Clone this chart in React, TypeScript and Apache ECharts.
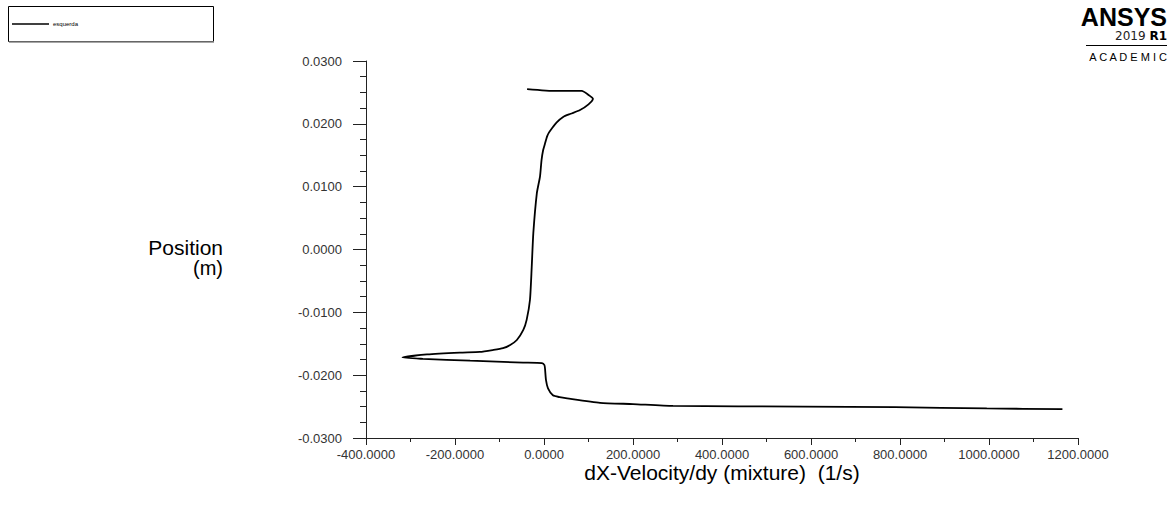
import React, { useEffect, useRef } from "react";
import * as echarts from "echarts";

const seriesName = "esquerda";
const xAxisTitle = "dX-Velocity/dy (mixture)  (1/s)";
const yAxisTitle = ["Position", "(m)"];

const dXVelocityDy: number[] = [
  -38, 27, 85, 100, 110, 100, 81, 60, 43, 28, 18, 11, 7, 2, -2, -5.6, -9, -16, -24, -27.6, -31.5, -39, -46.5, -61, -76, -92, -115, -144, -189, -263, -318,
  -272, -166, -47, -4.5, 1, 2.2, 4.5, 9, 20, 35, 52, 126, 200, 290, 582, 789, 995, 1165,
];
const position: number[] = [
  0.02554, 0.02523, 0.02523, 0.0246, 0.024, 0.0231, 0.0222, 0.0216, 0.0211, 0.0202, 0.0193, 0.0186, 0.018, 0.0168, 0.0158, 0.0142, 0.0116, 0.009, 0.0026, -0.0028, -0.008, -0.0112, -0.0128, -0.0144, -0.0152, -0.0157, -0.016, -0.0163, -0.0164, -0.0167, -0.0172,
  -0.0174, -0.0177, -0.018, -0.0181, -0.0184, -0.0189, -0.0208, -0.0221, -0.0232, -0.0235, -0.0237, -0.0244, -0.0246, -0.0249, -0.025, -0.0251, -0.0253, -0.0254,
];

const FONT = "'Liberation Sans', Arial, sans-serif";

export default function App() {
  const ref = useRef<HTMLDivElement>(null);
  useEffect(() => {
    if (!ref.current) return;
    const chart = echarts.init(ref.current, null, { renderer: "svg" });
    const data = dXVelocityDy.map((x, i) => [x, position[i]]);
    chart.setOption({
      animation: false,
      backgroundColor: "#ffffff",
      grid: { left: 366, right: 98, top: 61, bottom: 68, containLabel: false },
      xAxis: {
        type: "value",
        min: -400,
        max: 1200,
        interval: 200,
        axisLine: { onZero: false, lineStyle: { color: "#222", width: 1 } },
        axisTick: { show: true, length: 7, lineStyle: { color: "#222" } },
        minorTick: { show: true, splitNumber: 2, length: 4, lineStyle: { color: "#222" } },
        splitLine: { show: false },
        axisLabel: {
          color: "#333",
          fontFamily: FONT,
          fontSize: 13,
          margin: 10,
          formatter: (v: number) => v.toFixed(4),
        },
      },
      yAxis: {
        type: "value",
        min: -0.03,
        max: 0.03,
        interval: 0.01,
        axisLine: { show: true, onZero: false, lineStyle: { color: "#222", width: 1 } },
        axisTick: { show: true, length: 13, lineStyle: { color: "#222" } },
        minorTick: { show: true, splitNumber: 4, length: 6, lineStyle: { color: "#222" } },
        splitLine: { show: false },
        axisLabel: {
          color: "#333",
          fontFamily: FONT,
          fontSize: 13,
          margin: 24,
          formatter: (v: number) => v.toFixed(4),
        },
      },
      series: [
        {
          name: seriesName,
          type: "line",
          data,
          showSymbol: false,
          symbol: "none",
          smooth: 0.2,
          lineStyle: { color: "#000", width: 1.8 },
        },
      ],
      graphic: [
        {
          type: "rect",
          shape: { x: 8.5, y: 6.5, width: 205, height: 35 },
          style: { fill: "#fff", stroke: "#000", lineWidth: 1 },
        },
        {
          type: "line",
          shape: { x1: 9, y1: 42, x2: 214, y2: 42 },
          style: { stroke: "#888", lineWidth: 1.5 },
        },
        {
          type: "line",
          shape: { x1: 12, y1: 24, x2: 49, y2: 24 },
          style: { stroke: "#000", lineWidth: 1.5 },
        },
        {
          type: "text",
          x: 53,
          y: 24,
          style: { text: seriesName, font: `6px ${FONT}`, fill: "#000", verticalAlign: "middle" },
        },
        {
          type: "text",
          x: 223,
          y: 247,
          style: { text: yAxisTitle[0], font: `21px ${FONT}`, fill: "#000", align: "right", verticalAlign: "middle" },
        },
        {
          type: "text",
          x: 223,
          y: 268,
          style: { text: yAxisTitle[1], font: `20px ${FONT}`, fill: "#000", align: "right", verticalAlign: "middle" },
        },
        {
          type: "text",
          x: 722,
          y: 472,
          style: { text: xAxisTitle, font: `21px ${FONT}`, fill: "#000", align: "center", verticalAlign: "middle" },
        },
        {
          type: "text",
          x: 1167,
          y: 17,
          style: { text: "ANSYS", font: `900 25px ${FONT}`, fill: "#000", align: "right", verticalAlign: "middle" },
        },
        {
          type: "text",
          x: 1167,
          y: 36,
          style: {
            text: "{a|2019 }{b|R1}",
            align: "right",
            verticalAlign: "middle",
            rich: {
              a: { font: `12px 'DejaVu Sans', ${FONT}`, fill: "#222" },
              b: { font: `bold 12px 'DejaVu Sans', ${FONT}`, fill: "#000" },
            },
          },
        },
        {
          type: "line",
          shape: { x1: 1086, y1: 45.5, x2: 1167, y2: 45.5 },
          style: { stroke: "#000", lineWidth: 1 },
        },
        {
          type: "text",
          x: 1167,
          y: 57,
          style: { text: "A C A D E M I C", font: `11px ${FONT}`, fill: "#000", align: "right", verticalAlign: "middle" },
        },
      ],
    });
    return () => chart.dispose();
  }, []);
  return (
    <div
      ref={ref}
      style={{ position: "fixed", left: 0, top: 0, width: 1176, height: 506, background: "#fff" }}
    />
  );
}
